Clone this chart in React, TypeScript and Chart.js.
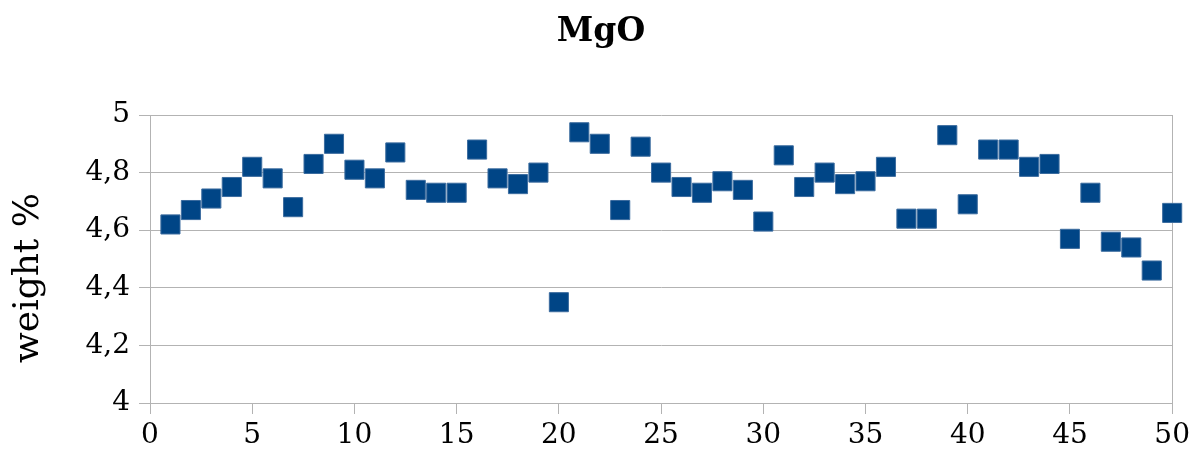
import React, { useEffect, useRef } from "react";
import { Chart, registerables } from "chart.js";

Chart.register(...registerables);

const titleText = "MgO";
const yAxisTitle = "weight %";
const sampleNumbers = [
  1, 2, 3, 4, 5, 6, 7, 8, 9, 10, 11, 12, 13, 14, 15, 16, 17, 18, 19, 20, 21, 22, 23, 24, 25,
  26, 27, 28, 29, 30, 31, 32, 33, 34, 35, 36, 37, 38, 39, 40, 41, 42, 43, 44, 45, 46, 47, 48, 49, 50,
];
const mgoValues = [
  4.62, 4.67, 4.71, 4.75, 4.82, 4.78, 4.68, 4.83, 4.9, 4.81, 4.78, 4.87, 4.74, 4.73, 4.73, 4.88, 4.78,
  4.76, 4.8, 4.35, 4.94, 4.9, 4.67, 4.89, 4.8, 4.75, 4.73, 4.77, 4.74, 4.63, 4.86, 4.75, 4.8, 4.76,
  4.77, 4.82, 4.64, 4.64, 4.93, 4.69, 4.88, 4.88, 4.82, 4.83, 4.57, 4.73, 4.56, 4.54, 4.46, 4.66,
];
const xMin = 0;
const xMax = 50;
const xStep = 5;
const yMin = 4;
const yMax = 5;
const yStep = 0.2;

const FONT = '"DejaVu Serif", serif';
const GRID = "#b3b3b3";
const MARKER = "#004586";

export default function App() {
  const ref = useRef<HTMLCanvasElement | null>(null);

  useEffect(() => {
    if (!ref.current) return;
    const textPlugin = {
      id: "chartTexts",
      afterDraw(chart: any) {
        const ctx = chart.ctx;
        ctx.save();
        ctx.fillStyle = "#000000";
        ctx.textAlign = "center";
        ctx.textBaseline = "middle";
        ctx.font = `bold 33px ${FONT}`;
        ctx.fillText(titleText, 601, 32);
        ctx.translate(29, 278);
        ctx.rotate(-Math.PI / 2);
        ctx.font = `36px ${FONT}`;
        ctx.fillText(yAxisTitle, 0, 0);
        ctx.restore();
      },
    };
    const chart = new Chart(ref.current, {
      type: "scatter",
      data: {
        datasets: [
          {
            label: titleText,
            data: sampleNumbers.map((x, i) => ({ x, y: mgoValues[i] })),
            pointStyle: "rect",
            pointRadius: 13.5,
            pointHoverRadius: 13.5,
            backgroundColor: MARKER,
            borderColor: "#3b6c9f",
            borderWidth: 1,
            clip: false,
          },
        ],
      },
      options: {
        responsive: false,
        animation: false,
        devicePixelRatio: 1,
        layout: { padding: { left: 0, right: 22, top: 115, bottom: 0 } },
        plugins: {
          legend: { display: false },
          tooltip: { enabled: false },
          title: { display: false },
        },
        scales: {
          x: {
            type: "linear",
            min: xMin,
            max: xMax,
            ticks: {
              stepSize: xStep,
              color: "#000000",
              font: { family: FONT, size: 28 },
              padding: 5,
              maxRotation: 0,
            },
            grid: {
              color: (c: any) =>
                c.tick && (c.tick.value === xMin || c.tick.value === xMax) ? GRID : "rgba(0,0,0,0)",
              tickColor: GRID,
              tickLength: 11,
              lineWidth: 1,
            },
            border: { display: true, color: GRID },
            afterFit: (scale: any) => {
              scale.height = 53;
            },
          },
          y: {
            type: "linear",
            min: yMin,
            max: yMax,
            ticks: {
              stepSize: yStep,
              color: "#000000",
              font: { family: FONT, size: 28 },
              padding: 9,
              callback: (v: any) => String(Math.round(Number(v) * 10) / 10).replace(".", ","),
            },
            grid: { color: GRID, tickColor: GRID, tickLength: 11, lineWidth: 1 },
            border: { display: true, color: GRID },
            afterFit: (scale: any) => {
              scale.width = 150;
            },
          },
        },
      },
      plugins: [textPlugin],
    });
    return () => chart.destroy();
  }, []);

  return (
    <div style={{ position: "fixed", left: 0, top: 0, width: 1195, height: 456, background: "#ffffff" }}>
      <canvas ref={ref} width={1195} height={456} style={{ display: "block" }} />
    </div>
  );
}
